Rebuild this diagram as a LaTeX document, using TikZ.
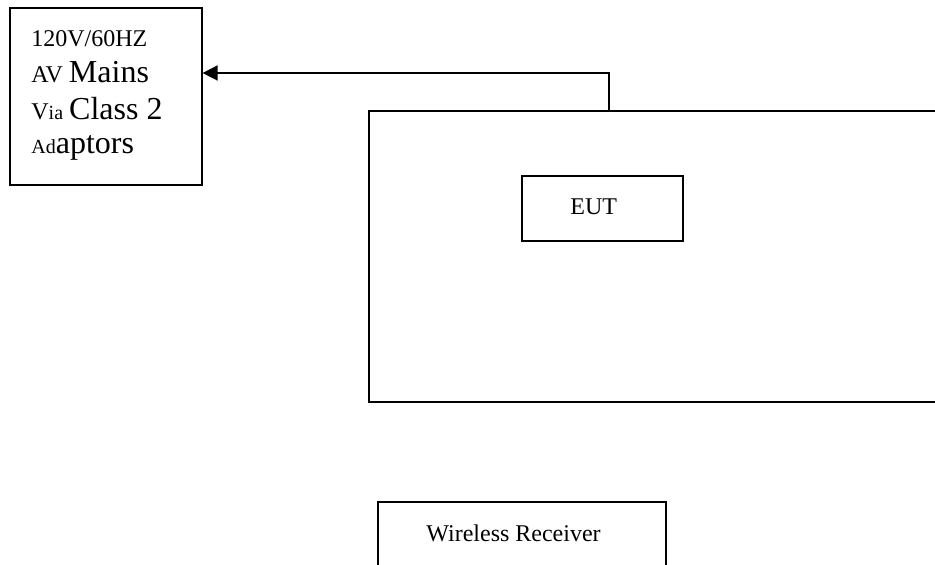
\documentclass[tikz,border=0pt]{standalone}
\usepackage{fontspec}
\setmainfont{Liberation Serif}
\usetikzlibrary{arrows.meta}
\tikzset{
  box/.style={draw, line width=0.8pt, inner sep=0pt, anchor=north west},
  lab/.style={inner sep=0pt, anchor=base west, font=\fontsize{12}{14}\selectfont},
  feed/.style={draw, line width=0.8pt, -{Triangle[length=7.5pt, width=7.5pt]}},
}
\newcommand{\lgtxt}[1]{{\fontsize{16}{19}\selectfont #1}}
\newcommand{\smtxt}[1]{{\fontsize{10}{12}\selectfont #1}}

\begin{document}
\begin{tikzpicture}[x=0.5pt, y=-0.5pt]
  \useasboundingbox (0,0) rectangle (935,565);
  % boxes
  \node[box, minimum width=96pt, minimum height=88.5pt] (mains) at (9,7) {};
  \node[box, minimum width=290pt, minimum height=145.5pt] (room) at (368,110) {};
  \node[box, minimum width=80.5pt, minimum height=32.5pt] (eut) at (521,175) {};
  \node[box, minimum width=144pt, minimum height=45pt] (rx) at (377,501) {};
  % texts
  \node[lab] (mainsA) at (31,47) {120V/60HZ};
  \node[lab] (mainsB) at (31,83) {AV \lgtxt{Mains}};
  \node[lab] (mainsC) at (31,120) {V\smtxt{ia} \lgtxt{Class 2}};
  \node[lab] (mainsD) at (31,154) {\smtxt{Ad}\lgtxt{aptors}};
  \node[lab] (eutlab) at (570,215) {EUT};
  \node[lab] (rxlab) at (426,541) {Wireless Receiver};
  % power feed
  \coordinate (tap) at (609,110);
  \coordinate (bend) at (609,73);
  \draw[feed] (tap) -- (bend) -- (bend -| mains.east);
\end{tikzpicture}
\end{document}
